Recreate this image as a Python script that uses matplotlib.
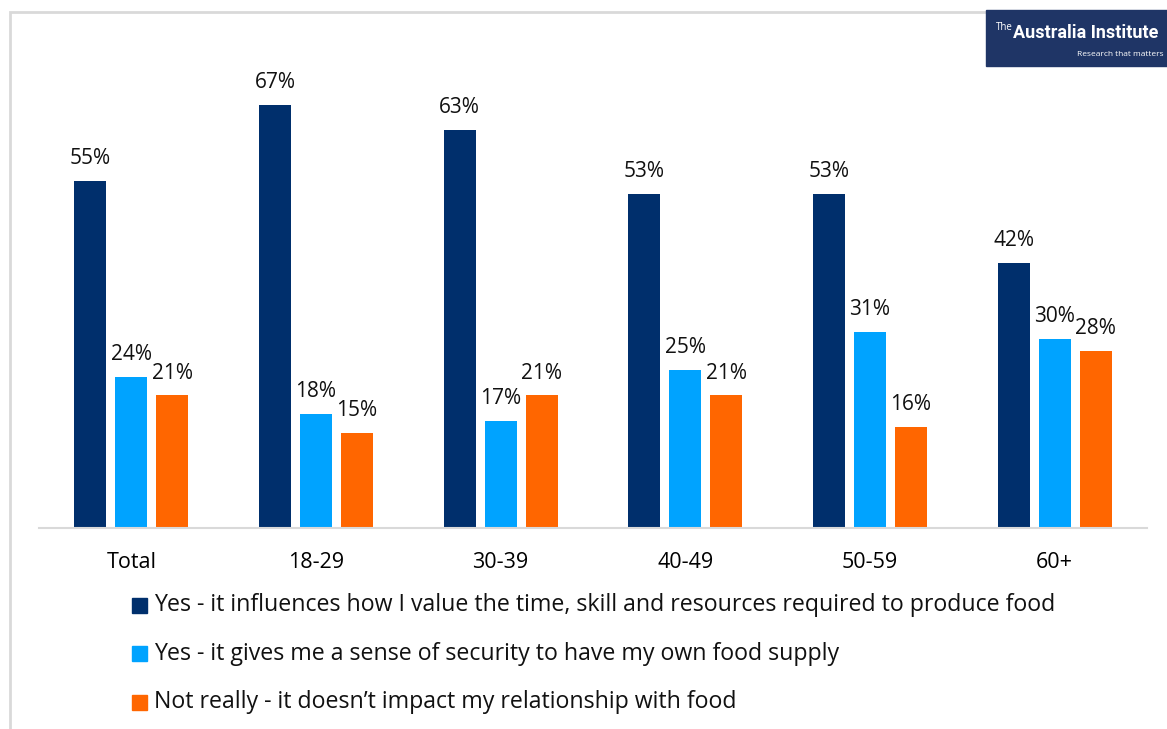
import numpy as np
import matplotlib.pyplot as plt
from matplotlib.patches import Rectangle

plt.rcParams['font.family'] = ['Open Sans', 'DejaVu Sans']

# survey results, percent
groups = ['Total', '18-29', '30-39', '40-49', '50-59', '60+']
values_value = [55, 67, 63, 53, 53, 42]
values_security = [24, 18, 17, 25, 31, 30]
values_no_impact = [21, 15, 21, 21, 16, 28]
legend_labels = [
    'Yes - it influences how I value the time, skill and resources required to produce food',
    'Yes - it gives me a sense of security to have my own food supply',
    'Not really - it doesn\u2019t impact my relationship with food',
]
colors = ['#002F6C', '#00A3FF', '#FF6600']

W, H = 1167, 729
fig = plt.figure(figsize=(W / 100, H / 100), dpi=100)

# light frame around the chart area
fig.add_artist(Rectangle((10 / W, -0.1), 1.2, (H - 12) / H + 0.1,
                         transform=fig.transFigure, fill=False,
                         edgecolor='#D9D9D9', lw=2))

ax = fig.add_axes([39 / W, (H - 528) / H, (1147 - 39) / W, (528 - 60) / H])
x = np.arange(len(groups))
width = 0.173
step = 0.222
series = [values_value, values_security, values_no_impact]
for i, (vals, col) in enumerate(zip(series, colors)):
    bars = ax.bar(x + (i - 1) * step, vals, width, color=col)
    for b, v in zip(bars, vals):
        ax.text(b.get_x() + b.get_width() / 2, v + 1.9, f'{v}%',
                ha='center', va='bottom', fontsize=15, color='#111111')

ax.set_xlim(-0.5, len(groups) - 0.5)
ax.set_ylim(0, (528 - 60) / 6.31)
ax.set_xticks(x)
ax.set_xticklabels(groups, fontsize=15.5)
ax.tick_params(axis='x', length=0, pad=17)
ax.set_yticks([])
for s in ['top', 'right', 'left']:
    ax.spines[s].set_visible(False)
ax.spines['bottom'].set_color('#D9D9D9')
ax.spines['bottom'].set_linewidth(1.5)

# legend rows drawn by hand as square + text
for i, (lab, col) in enumerate(zip(legend_labels, colors)):
    yc = (H - (605 + i * 48.5)) / H
    fig.add_artist(Rectangle((132 / W, yc - 7.5 / H), 15 / W, 15 / H,
                             transform=fig.transFigure, color=col))
    fig.text(154 / W, yc, lab, fontsize=16.7, va='center', ha='left',
             color='#111111')

# institute logo box
fig.add_artist(Rectangle((986 / W, (H - 66) / H), (W - 986) / W, 56 / H,
                         transform=fig.transFigure, color='#1F3566'))
fig.text(996 / W, (H - 27) / H, 'The', fontsize=7, color='white',
         va='center', ha='left')
fig.text(1013 / W, (H - 33) / H, 'Australia Institute', fontsize=13,
         color='white', va='center', ha='left', fontweight='bold',
         family='Roboto')
fig.text(1164 / W, (H - 55) / H, 'Research that matters', fontsize=6,
         color='white', va='center', ha='right')

fig.savefig('out.png', dpi=100)
